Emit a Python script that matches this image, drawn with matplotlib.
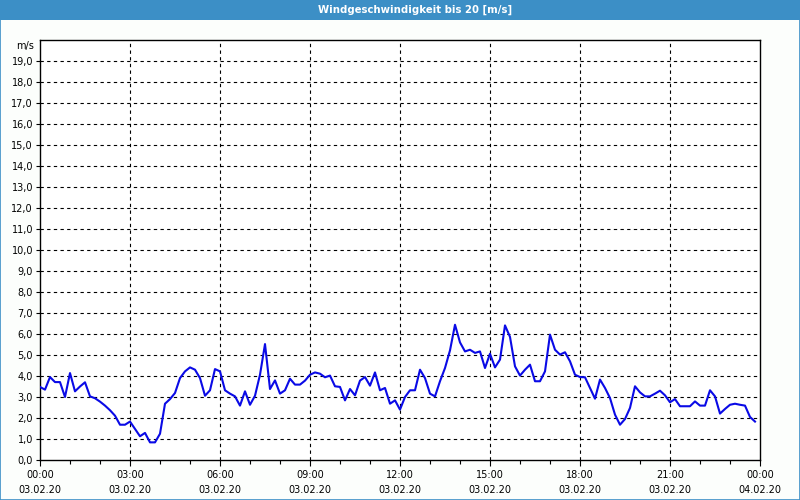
import numpy as np
import matplotlib
matplotlib.use("Agg")
import matplotlib.pyplot as plt
from matplotlib.patches import Rectangle

# Windgeschwindigkeit, 10-Minuten-Werte am 03.02.20
wind = [3.48, 3.35, 3.95, 3.71, 3.71, 3.0, 4.14, 3.27, 3.5, 3.7, 3.03, 2.94,
        2.78, 2.59, 2.37, 2.11, 1.68, 1.68, 1.83, 1.48, 1.13, 1.29, 0.84, 0.84,
        1.25, 2.68, 2.9, 3.19, 3.9, 4.22, 4.41, 4.3, 3.9, 3.06, 3.32, 4.33,
        4.22, 3.32, 3.16, 3.03, 2.59, 3.27, 2.63, 3.06, 4.06, 5.52, 3.38, 3.79,
        3.16, 3.32, 3.87, 3.59, 3.59, 3.78, 4.06, 4.17, 4.11, 3.94, 4.02, 3.51,
        3.48, 2.84, 3.38, 3.08, 3.78, 3.95, 3.54, 4.17, 3.32, 3.43, 2.68, 2.84,
        2.4, 3.0, 3.32, 3.32, 4.3, 3.9, 3.16, 3.03, 3.75, 4.38, 5.22, 6.44,
        5.6, 5.17, 5.25, 5.1, 5.17, 4.38, 5.06, 4.41, 4.78, 6.41, 5.86, 4.46,
        4.02, 4.3, 4.54, 3.75, 3.75, 4.22, 5.97, 5.25, 5.02, 5.13, 4.7, 4.06,
        3.95, 3.94, 3.43, 2.92, 3.83, 3.43, 2.95, 2.16, 1.68, 1.95, 2.48, 3.51,
        3.22, 3.03, 3.03, 3.16, 3.3, 3.08, 2.75, 2.9, 2.56, 2.56, 2.56, 2.79,
        2.59, 2.59, 3.32, 3.03, 2.21, 2.43, 2.63, 2.68, 2.63, 2.59, 2.05, 1.83]
hours = np.arange(len(wind)) * 10 / 60

tick_times = ["00:00", "03:00", "06:00", "09:00", "12:00", "15:00", "18:00", "21:00", "00:00"]
tick_dates = ["03.02.20"] * 8 + ["04.02.20"]
title = "Windgeschwindigkeit bis 20 [m/s]"

plt.rcParams['font.family'] = ['DejaVu Sans']
fig = plt.figure(figsize=(8, 5), dpi=100, facecolor='#fcfefc')

# Titelleiste + Rahmen
fig.patches.append(Rectangle((0, 480 / 500), 1, 20 / 500, transform=fig.transFigure,
                             facecolor='#3c8fc6', edgecolor='none', zorder=0))
fig.patches.append(Rectangle((0.0006, 0.001), 0.9988, 0.998, transform=fig.transFigure,
                             facecolor='none', edgecolor='#3c8fc6', linewidth=1.2, zorder=5))
fig.text(415 / 800, 490 / 500, title, color='white', fontsize=7.3, fontweight='bold',
         ha='center', va='center')

ax = fig.add_axes([40 / 800, 40 / 500, 720 / 800, 420 / 500])
ax.set_facecolor('white')
ax.plot(hours, wind, color='#0a0ae6', linewidth=1.5, zorder=3)

ax.set_xlim(0, 24)
ax.set_ylim(0, 20)

ax.set_yticks(range(20))
ax.set_yticklabels([f"{v:.1f}".replace('.', ',') for v in range(20)], fontsize=7)
ax.text(-0.008, 19.7, "m/s", transform=ax.get_yaxis_transform(), ha='right', va='center', fontsize=7)

ax.set_xticks(range(0, 25, 3))
ax.set_xticklabels([f"{t}\n{d}" for t, d in zip(tick_times, tick_dates)], fontsize=7, linespacing=1.6)
ax.set_xticks(range(25), minor=True)
ax.tick_params(axis='x', which='major', length=4, width=0.8, pad=3)
ax.tick_params(axis='x', which='minor', length=3, width=0.8)
ax.tick_params(axis='y', length=3, width=0.8, pad=2)

for y in range(1, 20):
    ax.axhline(y, color='black', linestyle=(0, (3, 3)), linewidth=0.8, zorder=1)
for x in range(3, 24, 3):
    ax.axvline(x, color='black', linestyle=(0, (3, 3)), linewidth=0.8, zorder=1)

for s in ax.spines.values():
    s.set_linewidth(1.0)

fig.savefig("out.png", dpi=100, facecolor=fig.get_facecolor())
